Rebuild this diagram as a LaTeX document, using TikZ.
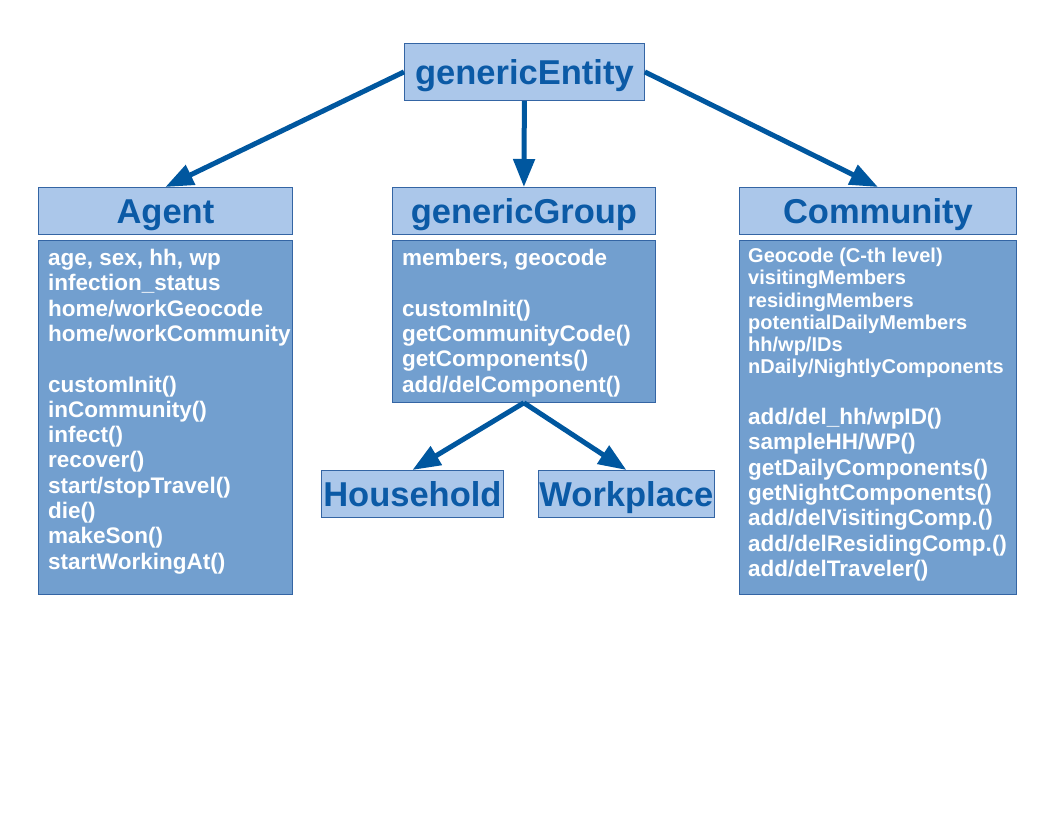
\documentclass[tikz,border=0pt]{standalone}
\usepackage{fontspec}
\setmainfont{Liberation Sans}
\usetikzlibrary{arrows.meta}
\definecolor{hdrfill}{HTML}{ABC7EA}
\definecolor{bodyfill}{HTML}{729FCF}
\definecolor{edge}{HTML}{3465A4}
\definecolor{hdrtext}{HTML}{0B5AA6}
\definecolor{arrcol}{HTML}{00579F}
\tikzset{
  hdr/.style={draw=edge, line width=0.8pt, fill=hdrfill, anchor=north west, inner sep=0pt,
    text=hdrtext, font=\fontsize{34.5}{40}\selectfont\bfseries, text height=24.7pt, text depth=0pt},
  body/.style={draw=edge, line width=0.8pt, fill=bodyfill, anchor=north west, inner sep=0pt},
  btext/.style={anchor=north west, inner sep=0pt, align=left, text=white,
    font=\fontsize{22.5}{25.3}\selectfont\bfseries},
  stext/.style={anchor=north west, inner sep=0pt, align=left, text=white,
    font=\fontsize{20}{22.2}\selectfont\bfseries},
  arr/.style={draw=arrcol, line width=5pt, -{Triangle[length=28pt,width=21pt]}, arrcol}
}
\begin{document}
\begin{tikzpicture}[x=1pt,y=-1pt]
\useasboundingbox[fill=white] (0,0) rectangle (1056,816);
% top
\node[hdr, minimum width=240pt, minimum height=57pt] (entity) at (404,43) {genericEntity};
% Agent
\node[hdr, minimum width=254pt, minimum height=47pt] (agent) at (38,187) {Agent};
\node[body, minimum width=254pt, minimum height=354pt] (agentbody) at (38,240) {};
\node[btext] (agenttext) at (48,249) {age, sex, hh, wp\\ infection\_status\\ home/workGeocode\\ home/workCommunity\\[25.3pt]
customInit()\\ inCommunity()\\ infect()\\ recover()\\ start/stopTravel()\\ die()\\ makeSon()\\ startWorkingAt()};
% genericGroup
\node[hdr, minimum width=263pt, minimum height=47pt] (group) at (392,187) {genericGroup};
\node[body, minimum width=263pt, minimum height=162pt] (groupbody) at (392,240) {};
\node[btext] (grouptext) at (402,249) {members, geocode\\[25.3pt] customInit()\\ getCommunityCode()\\ getComponents()\\ add/delComponent()};
% Community
\node[hdr, minimum width=277pt, minimum height=47pt] (comm) at (739,187) {Community};
\node[body, minimum width=277pt, minimum height=354pt] (commbody) at (739,240) {};
\node[stext] (commtext1) at (748,248) {Geocode (C-th level)\\ visitingMembers\\ residingMembers\\ potentialDailyMembers\\ hh/wp/IDs\\ nDaily/NightlyComponents};
\node[btext] (commtext2) at (748,408) {add/del\_hh/wpID()\\ sampleHH/WP()\\ getDailyComponents()\\ getNightComponents()\\ add/delVisitingComp.()\\ add/delResidingComp.()\\ add/delTraveler()};
% Household / Workplace
\node[hdr, minimum width=182pt, minimum height=47pt] (house) at (321,470) {Household};
\node[hdr, minimum width=176pt, minimum height=47pt] (work) at (538,470) {Workplace};
% arrows
\draw[arr] (entity.west) -- (agent.north);
\draw[arr] (entity.south) -- (group.north);
\draw[arr] (entity.east) -- (comm.north);
\draw[arr] (groupbody.south) -- (house.north);
\draw[arr] (groupbody.south) -- (work.north);
\end{tikzpicture}
\end{document}
